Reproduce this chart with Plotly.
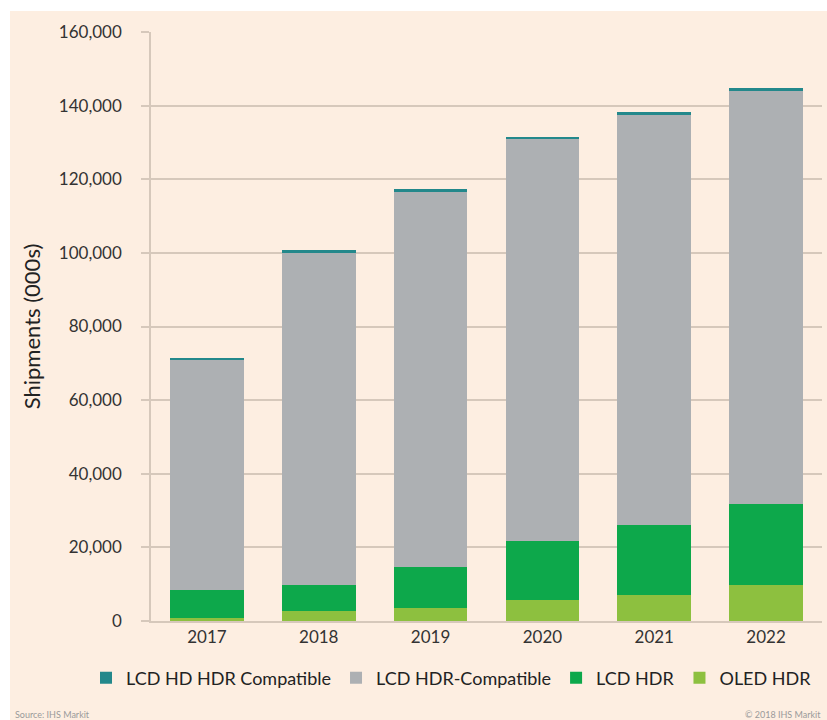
import plotly.graph_objects as go

# Shipments in thousands of units, by year
years = ["2017", "2018", "2019", "2020", "2021", "2022"]
oled_hdr = [800, 2600, 3600, 5800, 7000, 9700]
lcd_hdr = [7600, 7100, 11100, 15900, 19200, 22000]
lcd_hdr_compatible = [62400, 90300, 101900, 109200, 111300, 112400]
lcd_hd_hdr_compatible = [700, 700, 700, 700, 700, 700]

y_ticks = [0, 20000, 40000, 60000, 80000, 100000, 120000, 140000, 160000]
y_ticktext = ["0", "20,000", "40,000", "60,000", "80,000", "100,000", "120,000", "140,000", "160,000"]

W, H = 827, 720
ML, MR, MT, MB = 151, 5, 32, 99
PW, PH = W - ML - MR, H - MT - MB


def px_x(px):
    return (px - ML) / PW


def px_y(py):
    return (H - MB - py) / PH


cream = "#fdeee1"
grid = "#d6c8bb"
font = "Lato, 'Open Sans', sans-serif"

fig = go.Figure()
series = [
    ("OLED HDR", oled_hdr, "#8dc03f"),
    ("LCD HDR", lcd_hdr, "#0da84b"),
    ("LCD HDR-Compatible", lcd_hdr_compatible, "#adb0b3"),
    ("LCD HD HDR Compatible", lcd_hd_hdr_compatible, "#23888b"),
]
for name, vals, col in series:
    fig.add_trace(go.Bar(x=years, y=vals, name=name, marker=dict(color=col, line=dict(width=0))))

fig.update_layout(
    width=W, height=H,
    margin=dict(l=ML, r=MR, t=MT, b=MB, pad=0),
    barmode="stack", bargap=0.34,
    paper_bgcolor="white", plot_bgcolor="rgba(0,0,0,0)",
    font=dict(family=font, color="#333333", size=17),
    showlegend=True,
    legend=dict(
        orientation="h", traceorder="reversed",
        x=px_x(86), xanchor="left", y=px_y(678), yanchor="middle",
        font=dict(size=18, color="#222222"), itemwidth=30,
        bgcolor="rgba(0,0,0,0)",
    ),
    xaxis=dict(
        showline=True, linecolor=grid, linewidth=1.5, ticks="",
        tickfont=dict(size=17, color="#333333"), showgrid=False,
    ),
    yaxis=dict(
        range=[0, 160000], tickvals=y_ticks, ticktext=y_ticktext,
        showgrid=True, gridcolor=grid, gridwidth=1.5,
        showline=True, linecolor=grid, linewidth=1.5,
        ticks="outside", ticklen=8, tickcolor=grid, tickwidth=1.5,
        tickfont=dict(size=17, color="#333333"),
        ticklabelstandoff=16, zeroline=False,
        title=dict(text="Shipments (000s)", font=dict(size=22, color="#222222"), standoff=12),
    ),
    shapes=[dict(
        type="rect", xref="paper", yref="paper", layer="below",
        x0=px_x(10), x1=px_x(W + 5), y0=px_y(H + 5), y1=px_y(11),
        fillcolor=cream, line=dict(width=0),
    )],
    annotations=[
        dict(text="Source: IHS Markit", xref="paper", yref="paper",
             x=px_x(13), y=px_y(714), xanchor="left", yanchor="middle",
             showarrow=False, font=dict(size=9, color="#9a9a9a")),
        dict(text="© 2018 IHS Markit", xref="paper", yref="paper",
             x=px_x(823), y=px_y(714), xanchor="right", yanchor="middle",
             showarrow=False, font=dict(size=9, color="#9a9a9a")),
    ],
)

fig.write_html("out.html")
